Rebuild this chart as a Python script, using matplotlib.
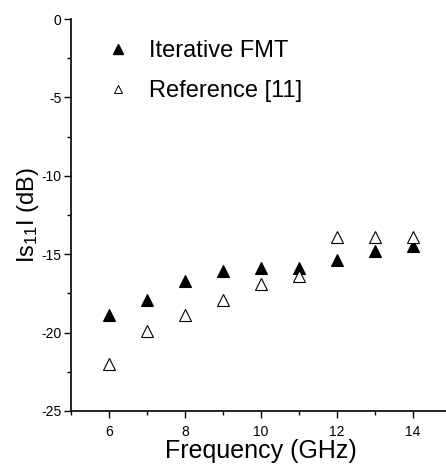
import numpy as np
import matplotlib
matplotlib.use("Agg")
import matplotlib.pyplot as plt
from matplotlib.ticker import MultipleLocator
from matplotlib.lines import Line2D

# data
freq = [6, 7, 8, 9, 10, 11, 12, 13, 14]
s11_fmt = [-18.9, -17.9, -16.7, -16.1, -15.9, -15.9, -15.4, -14.8, -14.5]
s11_ref = [-22.0, -19.9, -18.9, -17.9, -16.9, -16.4, -13.9, -13.9, -13.9]

plt.rcParams['font.family'] = ['Liberation Sans', 'DejaVu Sans']
plt.rcParams['mathtext.default'] = 'regular'
plt.rcParams['axes.unicode_minus'] = False

fig = plt.figure(figsize=(4.46, 4.74), dpi=100)
ax = fig.add_axes([71 / 446, 63 / 474, 380 / 446, 392 / 474])

ax.plot(freq, s11_fmt, linestyle='none', marker='^', markersize=9,
        color='black', markeredgewidth=0.8)
ax.plot(freq, s11_ref, linestyle='none', marker='^', markersize=9,
        markerfacecolor='white', markeredgecolor='black', markeredgewidth=0.8)

ax.set_xlim(5, 15)
ax.set_ylim(-25, 0)
ax.xaxis.set_major_locator(MultipleLocator(2))
ax.xaxis.set_minor_locator(MultipleLocator(1))
ax.yaxis.set_major_locator(MultipleLocator(5))
ax.yaxis.set_minor_locator(MultipleLocator(2.5))

for s in ['top', 'right']:
    ax.spines[s].set_visible(False)
for s in ['left', 'bottom']:
    ax.spines[s].set_linewidth(1.2)

ax.tick_params(which='major', direction='out', length=5, width=1, labelsize=10, pad=2)
ax.tick_params(which='minor', direction='out', length=3, width=1)
ax.tick_params(axis='x', pad=5)

ax.set_xlabel('Frequency (GHz)', fontsize=18, labelpad=0)
ax.set_ylabel('Is$_{11}$I (dB)', fontsize=17, labelpad=0)

handles = [
    Line2D([], [], linestyle='none', marker='^', markersize=7, color='black'),
    Line2D([], [], linestyle='none', marker='^', markersize=6,
           markerfacecolor='white', markeredgecolor='black', markeredgewidth=0.7),
]
ax.legend(handles, ['Iterative FMT', 'Reference [11]'], loc='upper left',
          bbox_to_anchor=(0.02, 1.0), frameon=False, fontsize=17,
          handletextpad=0.6, labelspacing=0.75, handlelength=1.5)

fig.savefig('out.png', dpi=100)
